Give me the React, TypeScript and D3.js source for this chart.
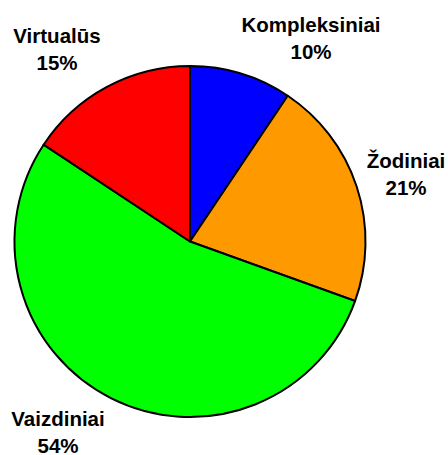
import React from "react";
import * as d3 from "d3";

const categories = ["Kompleksiniai", "Žodiniai", "Vaizdiniai", "Virtualūs"];
const values = [9.4, 21.1, 53.8, 15.7];
const percentLabels = ["10%", "21%", "54%", "15%"];
const colors = ["#0000FF", "#FF9900", "#00FF00", "#FF0000"];
// label anchor (center x, first baseline y)
const labelAnchors: [number, number][] = [
  [311, 32],
  [406, 168],
  [58, 426],
  [57, 43],
];

export default function App() {
  const W = 448;
  const H = 455;
  const cx = 190;
  const cy = 241.5;
  const r = 175.5;
  const pie = d3.pie<number>().sort(null).value((d) => d);
  const arcs = pie(values);
  const arc = d3.arc<d3.PieArcDatum<number>>().innerRadius(0).outerRadius(r);
  return (
    <svg
      width={W}
      height={H}
      style={{ position: "absolute", left: 0, top: 0 }}
      fontFamily="'Liberation Sans', Arial, sans-serif"
    >
      <rect width={W} height={H} fill="#fff" />
      <g transform={`translate(${cx},${cy})`}>
        {arcs.map((a, i) => (
          <path
            key={i}
            d={arc(a) || ""}
            fill={colors[i]}
            stroke="#000"
            strokeWidth={2}
            strokeLinejoin="round"
          />
        ))}
      </g>
      {categories.map((c, i) => (
        <text
          key={c}
          x={labelAnchors[i][0]}
          y={labelAnchors[i][1]}
          textAnchor="middle"
          fontWeight="bold"
          fontSize={20.5}
          fill="#000"
        >
          <tspan x={labelAnchors[i][0]}>{c}</tspan>
          <tspan x={labelAnchors[i][0]} dy={26.5}>
            {percentLabels[i]}
          </tspan>
        </text>
      ))}
    </svg>
  );
}
